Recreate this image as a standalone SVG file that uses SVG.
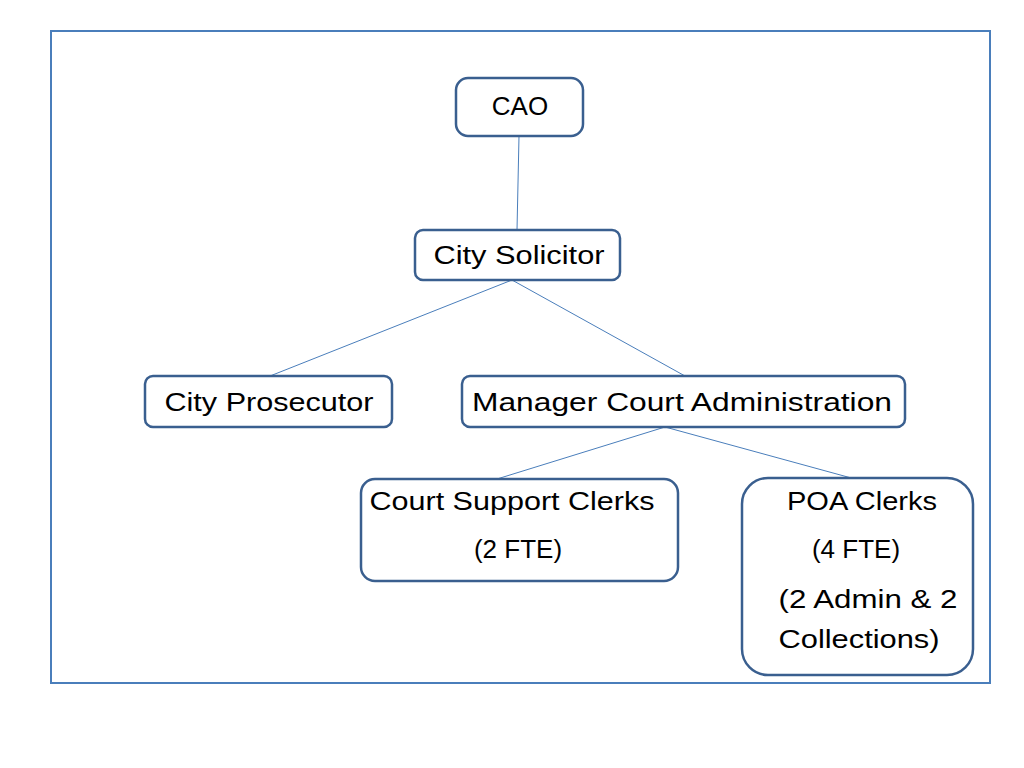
<svg xmlns="http://www.w3.org/2000/svg" width="1024" height="768" viewBox="0 0 1024 768">
<style>
.n{fill:#fff;stroke:#3a5f8f;stroke-width:2.5}
.t{font-family:"Liberation Sans",Arial,sans-serif;font-size:26px;fill:#000;text-anchor:middle}
.c{stroke:#4a7ebb;stroke-width:1;fill:none}
</style>
<rect x="0" y="0" width="1024" height="768" fill="#fff"/>
<rect x="51" y="31" width="939" height="652" fill="none" stroke="#4a7ebb" stroke-width="2"/>
<g id="connectors">
<line class="c" x1="519" y1="136" x2="517" y2="230"/>
<line class="c" x1="512" y1="280" x2="270" y2="376"/>
<line class="c" x1="512" y1="280" x2="685" y2="376"/>
<line class="c" x1="665" y1="427" x2="497" y2="479"/>
<line class="c" x1="665" y1="427" x2="855" y2="479"/>
</g>
<g id="cao"><rect class="n" x="456" y="78" width="127" height="58" rx="12"/><text class="t" x="520" y="115">CAO</text></g>
<g id="solicitor"><rect class="n" x="415" y="230" width="205" height="50" rx="8"/><text class="t" x="519" y="264" textLength="171" lengthAdjust="spacingAndGlyphs">City Solicitor</text></g>
<g id="prosecutor"><rect class="n" x="145" y="376" width="247" height="51" rx="8"/><text class="t" x="269" y="411" textLength="209" lengthAdjust="spacingAndGlyphs">City Prosecutor</text></g>
<g id="manager"><rect class="n" x="462" y="376" width="443" height="51" rx="8"/><text class="t" x="682" y="411" textLength="420" lengthAdjust="spacingAndGlyphs">Manager Court Administration</text></g>
<g id="clerks"><rect class="n" x="361" y="479" width="317" height="102" rx="14"/><text class="t" x="512" y="510" textLength="285" lengthAdjust="spacingAndGlyphs">Court Support Clerks</text><text class="t" x="518" y="558">(2 FTE)</text></g>
<g id="poa"><rect class="n" x="742" y="478" width="231" height="197" rx="26"/><text class="t" x="862" y="510" textLength="150" lengthAdjust="spacingAndGlyphs">POA Clerks</text><text class="t" x="856" y="558">(4 FTE)</text><text class="t" x="868" y="608" textLength="179" lengthAdjust="spacingAndGlyphs">(2 Admin &amp; 2</text><text class="t" x="859" y="648" textLength="161" lengthAdjust="spacingAndGlyphs">Collections)</text></g>
</svg>
